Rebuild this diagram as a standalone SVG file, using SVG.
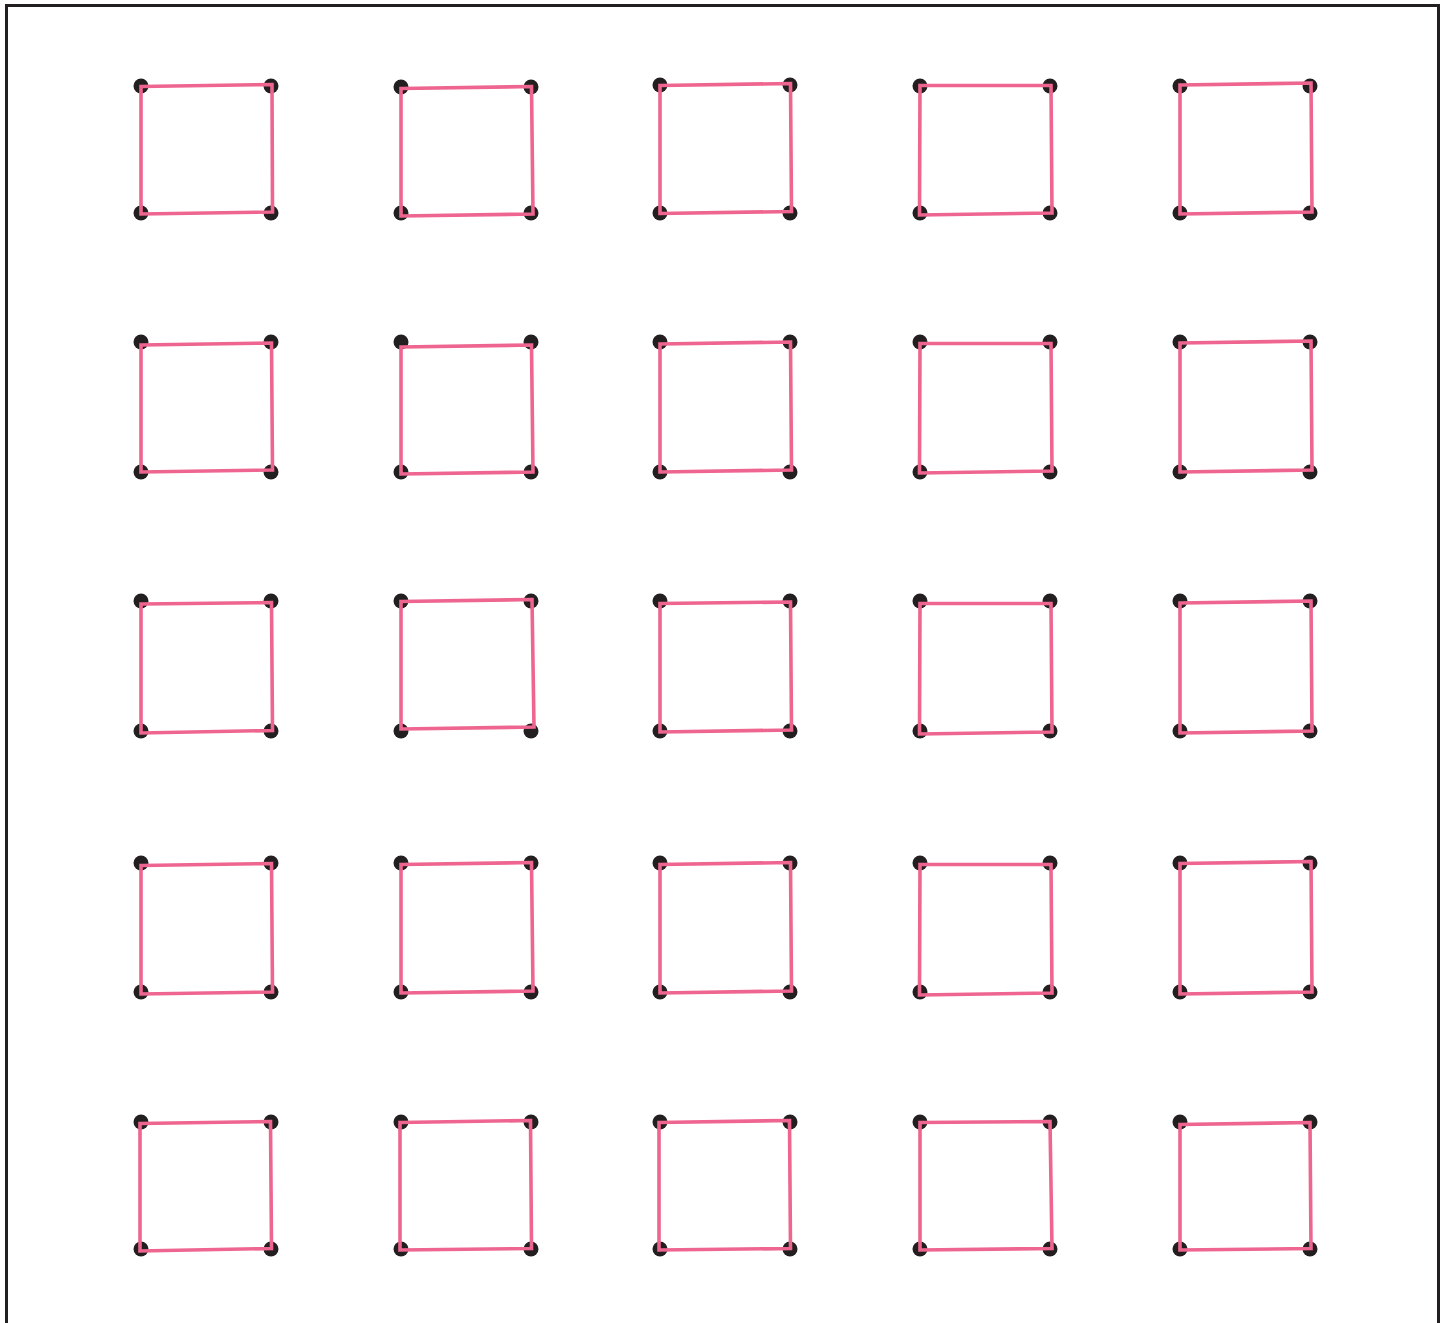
<svg xmlns="http://www.w3.org/2000/svg" width="1451" height="1323" viewBox="0 0 1451 1323">
<style>
.frame{fill:none;stroke:#231F20;stroke-width:3}
.d{fill:#231F20}
.q{fill:none;stroke:#EE6690;stroke-width:3.6;stroke-linejoin:miter}
</style>
<defs><circle id="dot" r="7.5" class="d"/></defs>
<rect x="0" y="0" width="1451" height="1323" fill="#fff"/>
<path class="frame" d="M6.5,1330 V5.5 H1438.5 V1330"/>
<g id="dots">
<use href="#dot" x="141" y="86"/><use href="#dot" x="271" y="86"/><use href="#dot" x="141" y="213"/><use href="#dot" x="271" y="213"/>
<use href="#dot" x="401" y="87"/><use href="#dot" x="531" y="87"/><use href="#dot" x="401" y="213"/><use href="#dot" x="531" y="213"/>
<use href="#dot" x="660" y="85"/><use href="#dot" x="790" y="85"/><use href="#dot" x="660" y="213"/><use href="#dot" x="790" y="213"/>
<use href="#dot" x="920" y="86"/><use href="#dot" x="1050" y="86"/><use href="#dot" x="920" y="213"/><use href="#dot" x="1050" y="213"/>
<use href="#dot" x="1180" y="86"/><use href="#dot" x="1310" y="86"/><use href="#dot" x="1180" y="213"/><use href="#dot" x="1310" y="213"/>

<use href="#dot" x="141" y="342"/><use href="#dot" x="271" y="342"/><use href="#dot" x="141" y="472"/><use href="#dot" x="271" y="472"/>
<use href="#dot" x="401" y="342"/><use href="#dot" x="531" y="342"/><use href="#dot" x="401" y="472"/><use href="#dot" x="531" y="472"/>
<use href="#dot" x="660" y="342"/><use href="#dot" x="790" y="342"/><use href="#dot" x="660" y="472"/><use href="#dot" x="790" y="472"/>
<use href="#dot" x="920" y="342"/><use href="#dot" x="1050" y="342"/><use href="#dot" x="920" y="472"/><use href="#dot" x="1050" y="472"/>
<use href="#dot" x="1180" y="342"/><use href="#dot" x="1310" y="342"/><use href="#dot" x="1180" y="472"/><use href="#dot" x="1310" y="472"/>

<use href="#dot" x="141" y="601"/><use href="#dot" x="271" y="601"/><use href="#dot" x="141" y="731"/><use href="#dot" x="271" y="731"/>
<use href="#dot" x="401" y="601"/><use href="#dot" x="531" y="601"/><use href="#dot" x="401" y="731"/><use href="#dot" x="531" y="731"/>
<use href="#dot" x="660" y="601"/><use href="#dot" x="790" y="601"/><use href="#dot" x="660" y="731"/><use href="#dot" x="790" y="731"/>
<use href="#dot" x="920" y="601"/><use href="#dot" x="1050" y="601"/><use href="#dot" x="920" y="731"/><use href="#dot" x="1050" y="731"/>
<use href="#dot" x="1180" y="601"/><use href="#dot" x="1310" y="601"/><use href="#dot" x="1180" y="731"/><use href="#dot" x="1310" y="731"/>

<use href="#dot" x="141" y="863"/><use href="#dot" x="271" y="863"/><use href="#dot" x="141" y="992"/><use href="#dot" x="271" y="992"/>
<use href="#dot" x="401" y="863"/><use href="#dot" x="531" y="863"/><use href="#dot" x="401" y="992"/><use href="#dot" x="531" y="992"/>
<use href="#dot" x="660" y="863"/><use href="#dot" x="790" y="863"/><use href="#dot" x="660" y="992"/><use href="#dot" x="790" y="992"/>
<use href="#dot" x="920" y="863"/><use href="#dot" x="1050" y="863"/><use href="#dot" x="920" y="992"/><use href="#dot" x="1050" y="992"/>
<use href="#dot" x="1180" y="863"/><use href="#dot" x="1310" y="863"/><use href="#dot" x="1180" y="992"/><use href="#dot" x="1310" y="992"/>

<use href="#dot" x="141" y="1122"/><use href="#dot" x="271" y="1122"/><use href="#dot" x="141" y="1249"/><use href="#dot" x="271" y="1249"/>
<use href="#dot" x="401" y="1122"/><use href="#dot" x="531" y="1122"/><use href="#dot" x="401" y="1249"/><use href="#dot" x="531" y="1249"/>
<use href="#dot" x="660" y="1122"/><use href="#dot" x="790" y="1122"/><use href="#dot" x="660" y="1249"/><use href="#dot" x="790" y="1249"/>
<use href="#dot" x="920" y="1122"/><use href="#dot" x="1050" y="1122"/><use href="#dot" x="920" y="1249"/><use href="#dot" x="1050" y="1249"/>
<use href="#dot" x="1180" y="1122"/><use href="#dot" x="1310" y="1122"/><use href="#dot" x="1180" y="1249"/><use href="#dot" x="1310" y="1249"/>
</g>
<g id="squares">
<polygon class="q" points="141,86.5 272,84.5 272.5,212 141,214"/>
<polygon class="q" points="401,88.5 531.5,86.5 533,214 401,216"/>
<polygon class="q" points="660,85.5 790.5,83.5 791.5,211.5 660,213.5"/>
<polygon class="q" points="920,85.5 1051,85.5 1052,213 919.5,215"/>
<polygon class="q" points="1180,85 1311,83 1312,212 1180,214"/>

<polygon class="q" points="141,345 271.5,343 272.5,470 141,472"/>
<polygon class="q" points="401,347 531.5,345 533,472 401,474"/>
<polygon class="q" points="660,344 790.5,342 791.5,470 660,472"/>
<polygon class="q" points="920,343.5 1051,343.5 1052,471 919.5,473"/>
<polygon class="q" points="1180,343 1311,341 1312,470 1180,472"/>

<polygon class="q" points="141,604 271.5,602.5 272.5,730.5 141,733"/>
<polygon class="q" points="401,601.5 532,599.5 534,727 401,729"/>
<polygon class="q" points="660,603.5 790.5,602 791.5,730 660,732"/>
<polygon class="q" points="920,603.5 1051,603.5 1052,732 919.5,734"/>
<polygon class="q" points="1180,603 1311,601 1312,731 1180,733"/>

<polygon class="q" points="141,865.5 271.5,863.5 272.5,992 141,994"/>
<polygon class="q" points="401,864.5 531.5,862.5 533,991 401,993"/>
<polygon class="q" points="660,864.5 790.5,862.5 791.5,991 660,993"/>
<polygon class="q" points="920,864.5 1051,864.5 1052,993 919.5,995"/>
<polygon class="q" points="1180,863.5 1311,861.5 1312,992 1180,994"/>

<polygon class="q" points="140,1123.5 270.5,1121.5 271.5,1248.5 140,1251"/>
<polygon class="q" points="400,1122.5 530.5,1120.5 531.5,1248.5 400,1250"/>
<polygon class="q" points="659,1122.5 789.5,1120.5 790.5,1248.5 659,1250"/>
<polygon class="q" points="920,1122.5 1050,1121.5 1052,1248.5 920,1250"/>
<polygon class="q" points="1180,1124.5 1310,1122.5 1311,1248.5 1180,1250"/>
</g>
</svg>
